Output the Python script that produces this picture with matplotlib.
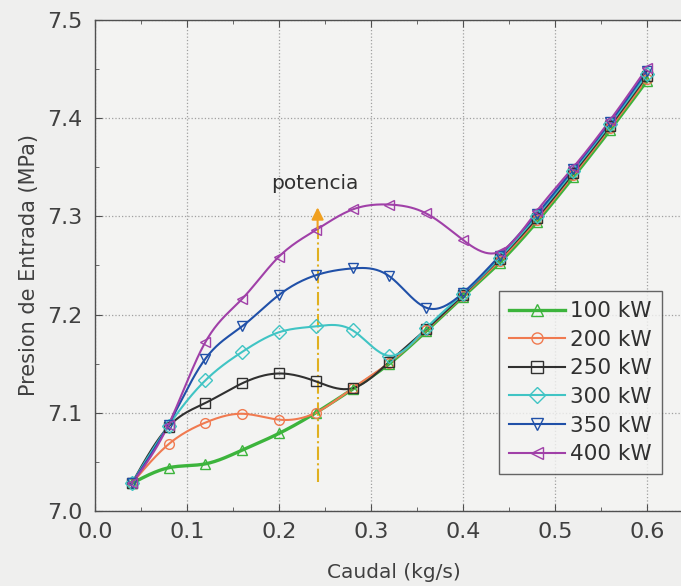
import numpy as np
import matplotlib.pyplot as plt
from matplotlib.ticker import MultipleLocator

plt.rcParams['font.family'] = ['DejaVu Sans']

# caudal (kg/s)
caudal = [0.04, 0.08, 0.12, 0.16, 0.20, 0.24, 0.28, 0.32, 0.36, 0.40, 0.44, 0.48, 0.52, 0.56, 0.60]

# presion de entrada (MPa) por potencia
p100 = [7.028, 7.044, 7.048, 7.062, 7.079, 7.100, 7.124, 7.150, 7.183, 7.218, 7.253, 7.294, 7.340, 7.388, 7.438]
p200 = [7.028, 7.068, 7.090, 7.099, 7.093, 7.100, 7.125, 7.151, 7.184, 7.219, 7.255, 7.296, 7.342, 7.390, 7.440]
p250 = [7.028, 7.086, 7.110, 7.130, 7.140, 7.132, 7.125, 7.152, 7.185, 7.220, 7.257, 7.298, 7.344, 7.392, 7.443]
p300 = [7.028, 7.087, 7.133, 7.162, 7.182, 7.188, 7.184, 7.158, 7.186, 7.221, 7.258, 7.300, 7.346, 7.394, 7.445]
p350 = [7.028, 7.088, 7.155, 7.188, 7.220, 7.240, 7.247, 7.239, 7.207, 7.222, 7.260, 7.302, 7.348, 7.396, 7.448]
p400 = [7.028, 7.088, 7.172, 7.216, 7.259, 7.286, 7.307, 7.312, 7.303, 7.276, 7.264, 7.305, 7.350, 7.398, 7.451]

labels = ['100 kW', '200 kW', '250 kW', '300 kW', '350 kW', '400 kW']
colors = ['#3cb43c', '#f07a50', '#303030', '#40c4c4', '#2050a8', '#a040a8']
markers = ['^', 'o', 's', 'D', 'v', '<']


def spline(x, y, n=300):
    # natural cubic spline through the points
    x = np.asarray(x, float)
    y = np.asarray(y, float)
    m = len(x)
    h = np.diff(x)
    A = np.zeros((m, m))
    b = np.zeros(m)
    A[0, 0] = A[-1, -1] = 1
    for i in range(1, m - 1):
        A[i, i - 1] = h[i - 1]
        A[i, i] = 2 * (h[i - 1] + h[i])
        A[i, i + 1] = h[i]
        b[i] = 3 * ((y[i + 1] - y[i]) / h[i] - (y[i] - y[i - 1]) / h[i - 1])
    c = np.linalg.solve(A, b)
    xs = np.linspace(x[0], x[-1], n)
    idx = np.clip(np.searchsorted(x, xs) - 1, 0, m - 2)
    dx = xs - x[idx]
    bb = (y[idx + 1] - y[idx]) / h[idx] - h[idx] * (2 * c[idx] + c[idx + 1]) / 3
    dd = (c[idx + 1] - c[idx]) / (3 * h[idx])
    ys = y[idx] + bb * dx + c[idx] * dx ** 2 + dd * dx ** 3
    return xs, ys


fig = plt.figure(figsize=(6.81, 5.86), dpi=100)
fig.patch.set_facecolor('#efefee')
ax = fig.add_axes([0.1395, 0.128, 0.878, 0.838])
ax.set_facecolor('#f3f3f2')

series = [p100, p200, p250, p300, p350, p400]
for y, lab, col, mk in zip(series, labels, colors, markers):
    lw = 2.4 if lab == '100 kW' else 1.5
    xs, ys = spline(caudal, y)
    ax.plot(xs, ys, color=col, lw=lw, zorder=3)
    ax.plot(caudal, y, linestyle='none', marker=mk, ms=7, mfc='none', mec=col, mew=1.0, zorder=4)
    ax.plot([], [], color=col, lw=lw, marker=mk, ms=8, mfc='none', mec=col, mew=1.0, label=lab)

# flecha de potencia creciente
ax.plot([0.242, 0.242], [7.03, 7.29], color='#e0b020', lw=1.5, linestyle='-.', zorder=2)
ax.annotate('', xy=(0.242, 7.312), xytext=(0.242, 7.285),
            arrowprops=dict(arrowstyle='-|>', color='#f0a020', lw=1.5, mutation_scale=18), zorder=5)
ax.text(0.239, 7.333, 'potencia', ha='center', va='center', fontsize=14.5, color='#303030')

ax.set_xlim(0.0, 0.65)
ax.set_ylim(7.0, 7.5)
ax.xaxis.set_major_locator(MultipleLocator(0.1))
ax.xaxis.set_minor_locator(MultipleLocator(0.05))
ax.yaxis.set_major_locator(MultipleLocator(0.1))
ax.yaxis.set_minor_locator(MultipleLocator(0.05))
ax.xaxis.set_major_formatter(plt.FuncFormatter(lambda v, p: f'{v:.1f}'))
ax.yaxis.set_major_formatter(plt.FuncFormatter(lambda v, p: f'{v:.1f}'))
ax.tick_params(which='both', direction='in', top=True, right=False, colors='#505050',
               labelcolor='#404040', labelsize=16)
ax.tick_params(which='major', length=5)
ax.tick_params(which='minor', length=3)
ax.tick_params(axis='x', which='major', pad=8)
ax.tick_params(axis='y', which='major', pad=9)
ax.grid(True, which='major', color='#a0a0a0', linestyle=':', lw=0.9)
for s in ax.spines.values():
    s.set_color('#505050')
    s.set_linewidth(1.0)

ax.set_xlabel('Caudal (kg/s)', fontsize=14.5, color='#404040', labelpad=15)
ax.set_ylabel('Presion de Entrada (MPa)', fontsize=15, color='#404040', labelpad=6)

leg = ax.legend(loc='upper left', bbox_to_anchor=(0.676, 0.447), fontsize=15.5, frameon=True,
                fancybox=False, handlelength=2.6, handletextpad=0.25, labelspacing=0.4,
                borderpad=0.45, borderaxespad=0)
leg.get_frame().set_edgecolor('#404040')
leg.get_frame().set_facecolor('#f3f3f2')
leg.get_frame().set_linewidth(1.0)
for t in leg.get_texts():
    t.set_color('#303030')

fig.savefig('out.png', dpi=100, facecolor=fig.get_facecolor())
